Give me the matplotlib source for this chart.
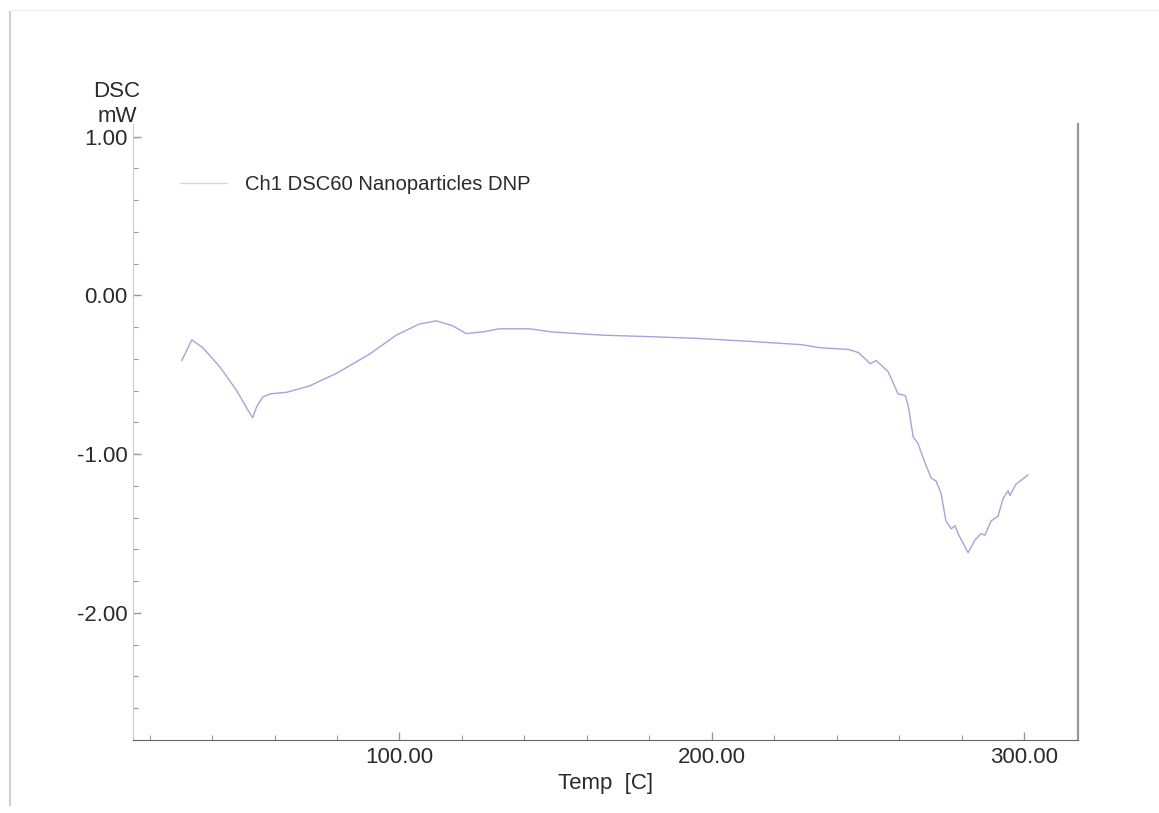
import matplotlib
matplotlib.use('Agg')
import matplotlib.pyplot as plt
from matplotlib.ticker import MultipleLocator, FormatStrFormatter
from matplotlib.lines import Line2D

# DSC trace: temperature [C] vs heat flow [mW]
temp = [30.3, 33.5, 37.1, 42.5, 47.9, 51.4, 53.0, 54.3, 56.2, 58.5, 63.9, 71.2,
        79.9, 90.4, 99.0, 106.4, 111.8, 116.9, 121.4, 126.5, 132.0, 141.7, 148.9,
        164.9, 180.8, 194.9, 212.8, 228.8, 235.0, 243.8, 247.0, 250.8, 252.7,
        256.5, 259.7, 262.0, 263.0, 264.5, 266.0, 268.4, 270.3, 271.9, 273.5,
        275.0, 276.7, 277.9, 278.9, 282.1, 284.3, 286.3, 287.5, 289.5, 291.7,
        293.3, 294.9, 295.5, 297.4, 301.3]
dsc = [-0.41, -0.28, -0.33, -0.45, -0.60, -0.72, -0.77, -0.70, -0.64, -0.62, -0.61, -0.57,
       -0.49, -0.37, -0.25, -0.18, -0.16, -0.19, -0.24, -0.23, -0.21, -0.21, -0.23,
       -0.25, -0.26, -0.27, -0.29, -0.31, -0.33, -0.34, -0.36, -0.43, -0.41,
       -0.48, -0.62, -0.63, -0.70, -0.89, -0.93, -1.06, -1.15, -1.17, -1.25,
       -1.42, -1.47, -1.45, -1.50, -1.62, -1.54, -1.50, -1.51, -1.42, -1.39,
       -1.28, -1.23, -1.26, -1.19, -1.13]
series_label = 'Ch1 DSC60 Nanoparticles DNP'

plt.rcParams['font.family'] = ['Liberation Sans', 'DejaVu Sans']

fig = plt.figure(figsize=(11.59, 8.13), dpi=100)
ax = fig.add_axes([0.1148, 0.0898, 0.8153, 0.7577])

ax.plot(temp, dsc, color='#a4a4dc', linewidth=1.0, label=series_label)

ax.set_xlim(14.7, 317.3)
ax.set_ylim(-2.8, 1.08)

# ticks
ax.xaxis.set_major_locator(MultipleLocator(100))
ax.xaxis.set_minor_locator(MultipleLocator(20))
ax.yaxis.set_major_locator(MultipleLocator(1))
ax.yaxis.set_minor_locator(MultipleLocator(0.2))
ax.xaxis.set_major_formatter(FormatStrFormatter('%.2f'))
ax.yaxis.set_major_formatter(FormatStrFormatter('%.2f'))
ax.tick_params(which='both', direction='in', colors='#999999', labelcolor='#2a2a2a',
               labelsize=16)
ax.tick_params(which='major', length=6, width=1)
ax.tick_params(which='minor', length=3.5, width=0.8)
ax.tick_params(axis='y', pad=4)
ax.tick_params(axis='x', pad=5)

# spines
ax.spines['top'].set_visible(False)
ax.spines['left'].set_color('#cccccc')
ax.spines['bottom'].set_color('#666666')
ax.spines['right'].set_color('#999999')
ax.spines['right'].set_linewidth(1.6)

ax.set_xlabel('Temp  [C]', fontsize=16, color='#2a2a2a', labelpad=4)
ax.text(-0.017, 1.033, 'DSC\nmW', transform=ax.transAxes, ha='center', va='center',
        fontsize=16, color='#2a2a2a', linespacing=1.25)

leg = ax.legend(loc='center left', bbox_to_anchor=(0.0497, 0.902), frameon=False,
                fontsize=14.6, handlelength=2.3, handletextpad=0.9, borderpad=0,
                borderaxespad=0, labelcolor='#2a2a2a')
for h in leg.get_lines():
    h.set_color('#d4d4ec')

# faint border of the original screenshot
fig.add_artist(Line2D([10 / 1159, 10 / 1159], [1 - 12 / 813, 1 - 805 / 813],
                      color='#d0d0d0', linewidth=1.5))
fig.add_artist(Line2D([10 / 1159, 1.0], [1 - 10 / 813, 1 - 10 / 813],
                      color='#f0f0f0', linewidth=1))

fig.savefig('out.png', dpi=100)
